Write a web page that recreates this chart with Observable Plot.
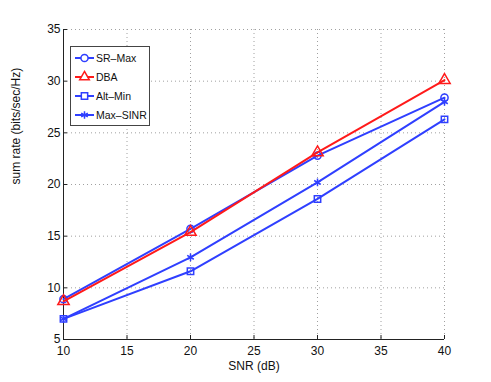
<!DOCTYPE html>
<html>
<head>
<meta charset="utf-8">
<script src="https://cdn.jsdelivr.net/npm/d3@7"></script>
<script src="https://cdn.jsdelivr.net/npm/@observablehq/plot@0.6"></script>
<style>
  html, body { margin: 0; padding: 0; background: #fff; }
  #wrap { position: relative; width: 491px; height: 382px; font-family: "Liberation Sans", Arial, sans-serif; }
  #legend { position: absolute; left: 70px; top: 46px; overflow: visible; }
</style>
</head>
<body>
<div id="wrap"></div>
<script>
const snr = [10, 20, 30, 40];
const srMax   = [8.9, 15.7, 22.8, 28.4];
const dba     = [8.7, 15.4, 23.1, 30.1];
const altMin  = [7.0, 11.6, 18.6, 26.3];
const maxSinr = [7.0, 12.95, 20.2, 28.0];
const seriesNames = ["SR-Max", "DBA", "Alt-Min", "Max-SINR"];
const seriesValues = [srMax, dba, altMin, maxSinr];
const seriesColors = ["#2f3fff", "#ff1a1a", "#2f3fff", "#2f3fff"];
const seriesSymbols = ["circle", "triangle", "square", "asterisk"];
const xTicks = [10, 15, 20, 25, 30, 35, 40];
const yTicks = [5, 10, 15, 20, 25, 30, 35];
const legendLabels = ["SR\u2013Max", "DBA", "Alt\u2013Min", "Max\u2013SINR"];

const rows = [];
seriesNames.forEach((name, i) => {
  snr.forEach((x, j) => rows.push({series: name, x, y: seriesValues[i][j]}));
});

const W = 491, H = 382;
const mL = 63, mR = 47, mT = 29, mB = 43;
const innerW = W - mL - mR, innerH = H - mT - mB;
const tickLen = 4;

const marks = [
  Plot.gridX(xTicks, {stroke: "#a0a0a0", strokeOpacity: 1, strokeDasharray: "1,3"}),
  Plot.gridY(yTicks, {stroke: "#a0a0a0", strokeOpacity: 1, strokeDasharray: "1,3"}),
  Plot.tickX(xTicks, {x: d => d, stroke: "#222", insetTop: innerH - tickLen}),
  Plot.tickY(yTicks, {y: d => d, stroke: "#222", insetRight: innerW - tickLen}),
  Plot.axisX(xTicks, {tickSize: 0, tickPadding: 7, fontSize: 12, label: null, fill: "#111"}),
  Plot.axisY(yTicks, {tickSize: 0, tickPadding: 3, fontSize: 12, label: null, fill: "#111"}),
  Plot.ruleY([5], {stroke: "#222"}),
  Plot.ruleX([10], {stroke: "#222"}),
];
seriesNames.forEach((name, i) => {
  const data = rows.filter(r => r.series === name);
  marks.push(Plot.line(data, {x: "x", y: "y", stroke: seriesColors[i], strokeWidth: 2}));
  marks.push(Plot.dot(data, {x: "x", y: "y", stroke: seriesColors[i], symbol: seriesSymbols[i], r: seriesSymbols[i] === "triangle" ? 4.2 : 3.6, strokeWidth: 1.5, fill: "none"}));
});
marks.push(Plot.text(["SNR (dB)"], {frameAnchor: "bottom", dy: 30, fontSize: 12, fill: "#111", text: d => d}));
marks.push(Plot.text(["sum rate (bits/sec/Hz)"], {frameAnchor: "left", dx: -47, rotate: -90, fontSize: 12, fill: "#111", text: d => d}));

const chart = Plot.plot({
  width: W, height: H,
  marginLeft: mL, marginRight: mR, marginTop: mT, marginBottom: mB,
  style: {fontFamily: "'Liberation Sans', Arial, sans-serif", background: "#fff"},
  x: {domain: [10, 40]},
  y: {domain: [5, 35]},
  marks
});
document.getElementById("wrap").appendChild(chart);

// legend
const lw = 80, lh = 80, rowH = 19;
const svg = d3.select("#wrap").append("svg")
  .attr("id", "legend").attr("width", lw).attr("height", lh);
svg.append("rect").attr("x", 0.5).attr("y", 0.5).attr("width", lw - 1).attr("height", lh - 1)
  .attr("fill", "#fff").attr("stroke", "#444");
const symMap = {circle: d3.symbolCircle, triangle: d3.symbolTriangle, square: d3.symbolSquare, asterisk: d3.symbolAsterisk};
legendLabels.forEach((lab, i) => {
  const cy = 12 + i * rowH;
  const g = svg.append("g");
  g.append("line").attr("x1", 5).attr("x2", 24).attr("y1", cy).attr("y2", cy)
    .attr("stroke", seriesColors[i]).attr("stroke-width", 2);
  g.append("path").attr("d", d3.symbol(symMap[seriesSymbols[i]], 40)())
    .attr("transform", `translate(14.5,${cy})`)
    .attr("fill", seriesSymbols[i] === "asterisk" ? seriesColors[i] : "#fff")
    .attr("stroke", seriesColors[i]).attr("stroke-width", 1.5);
  g.append("text").attr("x", 26).attr("y", cy + 4).text(lab)
    .attr("font-size", 10.5).attr("fill", "#111")
    .attr("font-family", "'Liberation Sans', Arial, sans-serif");
});
</script>
</body>
</html>
